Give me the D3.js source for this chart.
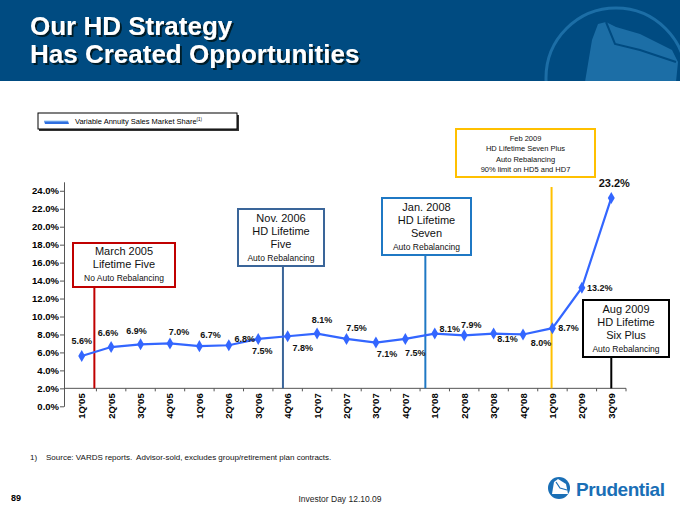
<!DOCTYPE html>
<html>
<head>
<meta charset="utf-8">
<title>Our HD Strategy</title>
<script src="https://d3js.org/d3.v7.min.js"></script>
<style>
  body { margin: 0; background: #fff; }
  text { font-family: "Liberation Sans", Arial, sans-serif; }
</style>
</head>
<body>
<div id="chart"></div>
<script>
// quarters and VA market share (%)
var quarters = ["1Q'05","2Q'05","3Q'05","4Q'05","1Q'06","2Q'06","3Q'06","4Q'06","1Q'07","2Q'07",
                "3Q'07","4Q'07","1Q'08","2Q'08","3Q'08","4Q'08","1Q'09","2Q'09","3Q'09"];
var share = [5.6, 6.6, 6.9, 7.0, 6.7, 6.8, 7.5, 7.8, 8.1, 7.5, 7.1, 7.5, 8.1, 7.9, 8.1, 8.0, 8.7, 13.2, 23.2];
var yTicks = [0, 2, 4, 6, 8, 10, 12, 14, 16, 18, 20, 22, 24];

// product launches: where they fall on the quarter axis, and box text
var eventPos = [0.43, 6.84, 11.68, 15.97, 18];
var eventText = [
  ["March 2005", "Lifetime Five", "No Auto Rebalancing"],
  ["Nov. 2006", "HD Lifetime", "Five", "Auto Rebalancing"],
  ["Jan. 2008", "HD Lifetime", "Seven", "Auto Rebalancing"],
  ["Feb 2009", "HD Lifetime Seven Plus", "Auto Rebalancing", "90% limit on HD5 and HD7"],
  ["Aug 2009", "HD Lifetime", "Six Plus", "Auto Rebalancing"]
];

// ---- layout ----
var W = 680, H = 510;
var svg = d3.select("#chart").append("svg")
    .attr("width", W).attr("height", H);

// label offsets from each point (dx, dy)
var labelOff = [[0,-12],[-3,-11],[-4,-10],[9,-8],[11,-8],[16,-3],[4,15],[15,15],[5,-11],[10,-8],
                [11,14],[10,17],[15,-2],[7,-7],[14,8],[18,12],[16,3],[18,3],[3,-11]];

// boxes: x, y, w, h, stroke, line top, line fonts
var boxes = [
  {x:73, y:243, w:102, h:44, c:"#c00000", top:287, sizes:[11,11,8.5], rows:[255,268,281]},
  {x:238, y:209, w:86, h:57, c:"#3a6599", top:266, sizes:[11,11,11,8.5], rows:[222,235,248,261]},
  {x:382, y:198, w:89, h:57, c:"#1f78c4", top:255, sizes:[11,11,11,8.5], rows:[211,224,237,250]},
  {x:456, y:129, w:139, h:48, c:"#ffc000", top:187, sizes:[7.5,7.5,7.5,7.5], rows:[141,151,162,172]},
  {x:583, y:300, w:86, h:57, c:"#000000", top:357, sizes:[11,11,11,8.5], rows:[313,326,339,352]}
];

var defs = svg.append("defs");
defs.append("filter").attr("id", "shadow").attr("x", "-5%").attr("y", "-20%")
    .attr("width", "115%").attr("height", "150%")
  .append("feDropShadow").attr("dx", 2).attr("dy", 2).attr("stdDeviation", 0.6)
    .attr("flood-color", "#06121f").attr("flood-opacity", 0.9);
defs.append("clipPath").attr("id", "hclip").append("rect").attr("width", W).attr("height", 81);

// header
svg.append("rect").attr("width", W).attr("height", 81).attr("fill", "#004b81");
var lg = svg.append("g").attr("clip-path", "url(#hclip)");
lg.append("circle").attr("cx", 616).attr("cy", 78).attr("r", 70)
  .attr("fill", "none").attr("stroke", "#1c6ea6").attr("stroke-width", 3);
lg.append("path")
  .attr("d", "M585,82 L592,40 L598,24 L606,22 L616,27 L640,34 L672,50 L678,62 L676,82 Z")
  .attr("fill", "#1c6ea6");
lg.append("path")
  .attr("d", "M606,22 L615,44 L640,50 L676,62")
  .attr("fill", "none").attr("stroke", "#004b81").attr("stroke-width", 2);

["Our HD Strategy", "Has Created Opportunities"].forEach(function(t, i) {
  svg.append("text").attr("x", 30).attr("y", 35 + i * 28)
    .attr("font-size", 26).attr("font-weight", "bold").attr("fill", "#fff")
    .attr("filter", "url(#shadow)").text(t);
});

// legend
svg.append("rect").attr("x", 39).attr("y", 115).attr("width", 200).attr("height", 16).attr("fill", "#333");
svg.append("rect").attr("x", 38).attr("y", 113).attr("width", 199).attr("height", 16)
  .attr("fill", "#fff").attr("stroke", "#000").attr("stroke-width", 1);
svg.append("path").attr("d", "M44,121 L68,121 L69,124 L45,124 Z").attr("fill", "#2f6fe0");
svg.append("line").attr("x1", 44).attr("x2", 68).attr("y1", 121).attr("y2", 121)
  .attr("stroke", "#9cc8f0").attr("stroke-width", 1);
var lt = svg.append("text").attr("x", 75).attr("y", 124).attr("font-size", 7.5).attr("fill", "#000");
lt.append("tspan").text("Variable Annuity Sales Market Share");
lt.append("tspan").attr("font-size", 4.5).attr("dy", -3).text("(1)");

// scales
var x = d3.scaleLinear().domain([-0.5, quarters.length - 0.5]).range([67, 626]);
var y = d3.scaleLinear().domain([0, 25]).range([406.3, 181.8]);

// y axis
var gy = svg.append("g").attr("transform", "translate(64,0)")
  .call(d3.axisLeft(y).tickValues(yTicks).tickSize(4).tickSizeOuter(0)
    .tickFormat(function(d) { return d.toFixed(1) + "%"; }));
gy.select(".domain").attr("stroke", "#555").attr("stroke-width", 1);
gy.selectAll(".tick line").attr("stroke", "#555");
gy.selectAll(".tick text").attr("font-family", "Liberation Sans, Arial, sans-serif")
  .attr("font-size", 9.5).attr("font-weight", "bold").attr("fill", "#000").attr("x", -5);

// x axis at the 2% level
var gx = svg.append("g").attr("transform", "translate(0," + y(2) + ")");
gx.append("line").attr("x1", 64).attr("x2", x(quarters.length - 0.5)).attr("stroke", "#555");
gx.selectAll(".bt").data(d3.range(quarters.length)).enter().append("line")
  .attr("x1", function(i) { return x(i + 0.5); }).attr("x2", function(i) { return x(i + 0.5); })
  .attr("y1", 0).attr("y2", 3).attr("stroke", "#555");
gx.selectAll(".ql").data(quarters).enter().append("text")
  .attr("transform", function(d, i) { return "translate(" + (x(i) + 3.5) + ",5)rotate(-90)"; })
  .attr("text-anchor", "end").attr("font-size", 9.5).attr("font-weight", "bold").text(function(d) { return d; });

// event lines and boxes
boxes.forEach(function(b, i) {
  var ex = x(eventPos[i]);
  svg.append("line").attr("x1", ex).attr("x2", ex).attr("y1", b.top).attr("y2", y(2))
    .attr("stroke", b.c).attr("stroke-width", 2);
  svg.append("rect").attr("x", b.x).attr("y", b.y).attr("width", b.w).attr("height", b.h)
    .attr("fill", "#fff").attr("stroke", b.c).attr("stroke-width", 2);
  eventText[i].forEach(function(t, j) {
    svg.append("text").attr("x", b.x + b.w / 2).attr("y", b.rows[j])
      .attr("text-anchor", "middle").attr("font-size", b.sizes[j]).attr("fill", "#111").text(t);
  });
});

// series
var line = d3.line().x(function(d, i) { return x(i); }).y(function(d) { return y(d); });
svg.append("path").datum(share).attr("d", line)
  .attr("fill", "none").attr("stroke", "#3366ff").attr("stroke-width", 2.2);
svg.selectAll(".pt").data(share).enter().append("path")
  .attr("transform", function(d, i) { return "translate(" + x(i) + "," + y(d) + ")"; })
  .attr("d", d3.symbol().type(d3.symbolDiamond).size(42))
  .attr("fill", "#3366ff");
svg.selectAll(".vl").data(share).enter().append("text")
  .attr("x", function(d, i) { return x(i) + labelOff[i][0]; })
  .attr("y", function(d, i) { return y(d) + labelOff[i][1]; })
  .attr("text-anchor", "middle")
  .attr("font-size", function(d, i) { return i === share.length - 1 ? 11 : 9; })
  .attr("font-weight", "bold").attr("fill", "#111")
  .text(function(d) { return d.toFixed(1) + "%"; });

// footer
svg.append("text").attr("x", 30).attr("y", 460).attr("font-size", 8).attr("fill", "#111")
  .attr("xml:space", "preserve")
  .text("1)    Source: VARDS reports.  Advisor-sold, excludes group/retirement plan contracts.");
svg.append("text").attr("x", 11).attr("y", 501).attr("font-size", 9).attr("font-weight", "bold").text("89");
svg.append("text").attr("x", 340).attr("y", 502).attr("text-anchor", "middle").attr("font-size", 8.5)
  .attr("fill", "#222").text("Investor Day 12.10.09");
svg.append("circle").attr("cx", 559).attr("cy", 488).attr("r", 11).attr("fill", "#1a6fb6");
svg.append("path").attr("d", "M552,494 L554,482 L558,479 L566,484 L568,494 Z").attr("fill", "#fff");
svg.append("path").attr("d", "M556,482 L560,488 L567,490").attr("fill", "none").attr("stroke", "#1a6fb6").attr("stroke-width", 1.2);
svg.append("text").attr("x", 576).attr("y", 496).attr("font-family", "Liberation Serif, serif")
  .attr("font-size", 19).attr("font-weight", "bold").attr("fill", "#1a6fb6")
  .attr("textLength", 89).text("Prudential");
</script>
</body>
</html>
